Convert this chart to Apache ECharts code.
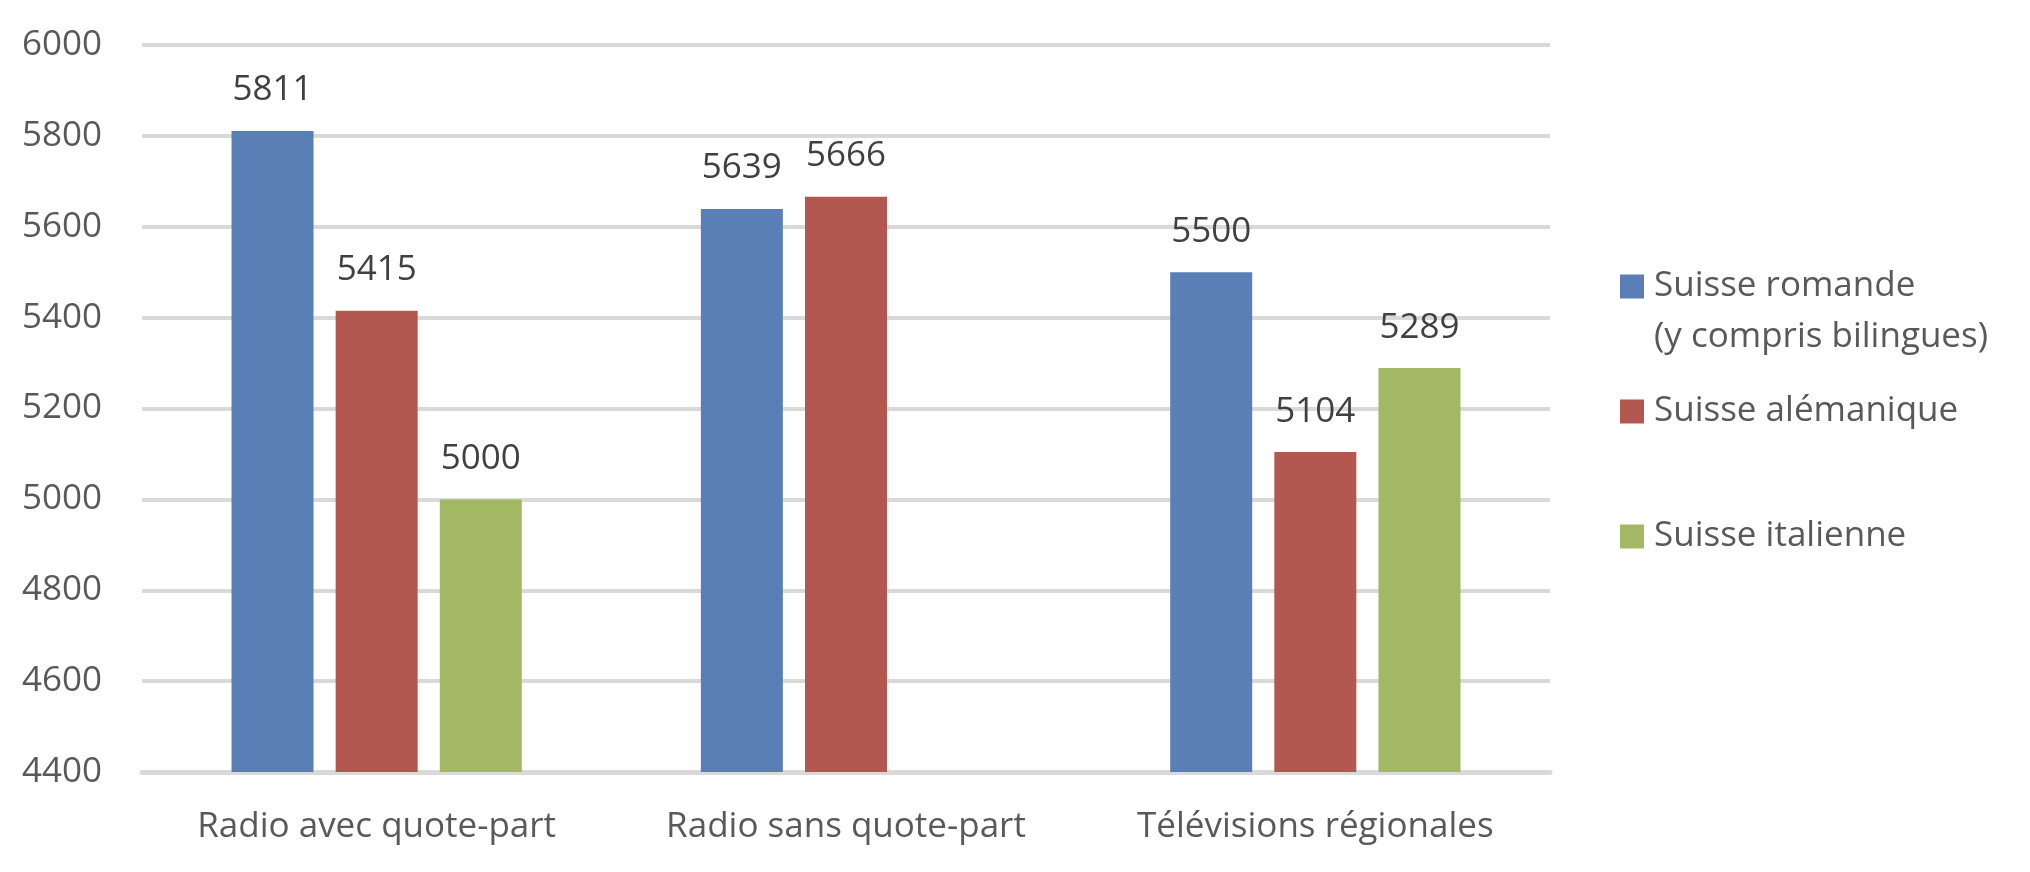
<!DOCTYPE html>
<html>
<head>
<meta charset="utf-8">
<script src="https://cdn.jsdelivr.net/npm/echarts@6/dist/echarts.min.js"></script>
<style>html,body{margin:0;padding:0;background:#fff}#c{width:2030px;height:872px}</style>
</head>
<body>
<div id="c"></div>
<script>
const categories = ['Radio avec quote-part', 'Radio sans quote-part', 'Télévisions régionales'];
const seriesNames = ['Suisse romande (y compris bilingues)', 'Suisse alémanique', 'Suisse italienne'];
const romande = [5811, 5639, 5500];
const alemanique = [5415, 5666, 5104];
const italienne = [5000, null, 5289];
const yTicks = { min: 4400, max: 6000, interval: 200 };

const colors = ['#5A7FB6', '#B25851', '#A3B863'];
const FONT = 'Open Sans';
const chart = echarts.init(document.getElementById('c'));

function mkSeries(name, data, color) {
  return {
    name: name, type: 'bar', data: data, barWidth: 82, barGap: '27%',
    itemStyle: { color: color },
    label: { show: true, position: 'top', distance: 23, color: '#404040', fontFamily: FONT, fontSize: 35 }
  };
}
function mkLegend(name, top, extra) {
  return Object.assign({
    orient: 'vertical', left: 1620, top: top, padding: 0,
    itemWidth: 24, itemHeight: 24, icon: 'rect',
    data: [name],
    textStyle: { color: '#595959', fontFamily: FONT, fontSize: 35, lineHeight: 51, padding: [0, 0, 0, 5] }
  }, extra || {});
}

chart.setOption({
  animation: false,
  color: colors,
  grid: { left: 142, right: 480, top: 45, bottom: 100, containLabel: false },
  legend: [
    mkLegend(seriesNames[0], 210, {
      formatter: function () { return '\nSuisse romande\n(y compris bilingues)'; }
    }),
    mkLegend(seriesNames[1], 386),
    mkLegend(seriesNames[2], 511)
  ],
  xAxis: {
    type: 'category', data: categories,
    axisTick: { show: false },
    axisLine: { lineStyle: { color: '#D9D9D9', width: 5 } },
    axisLabel: { color: '#595959', fontFamily: FONT, fontSize: 35, margin: 38 }
  },
  yAxis: {
    type: 'value', min: yTicks.min, max: yTicks.max, interval: yTicks.interval,
    axisLine: { show: false }, axisTick: { show: false },
    splitLine: { lineStyle: { color: '#D9D9D9', width: 4 } },
    axisLabel: { color: '#595959', fontFamily: FONT, fontSize: 35, margin: 40,
      formatter: function (v) { return String(v); } }
  },
  series: [
    mkSeries(seriesNames[0], romande, colors[0]),
    mkSeries(seriesNames[1], alemanique, colors[1]),
    mkSeries(seriesNames[2], italienne, colors[2])
  ]
});
</script>
</body>
</html>
